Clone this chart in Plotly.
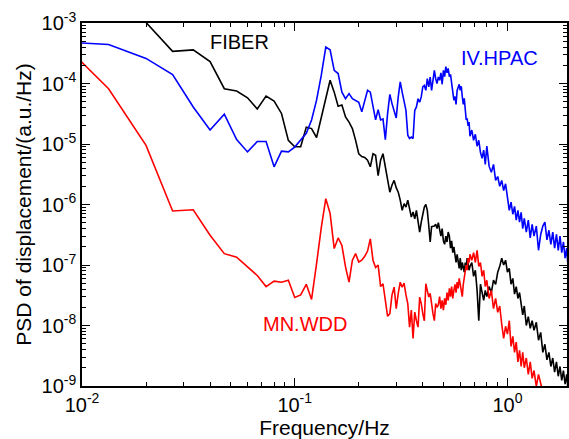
import math
import plotly.graph_objects as go

# frequency resolution of the spectra (Hz per bin)
DF = 1.0 / 150.0

# spectral bin indices (every bin up to 100, then a sparser set)
bins_low = list(range(1, 101))
bins_high = [102, 104, 106, 108, 110, 112, 114, 116, 118, 120,
             123, 126, 129, 132, 135, 138, 141, 144, 147, 150,
             153, 156, 159, 162, 165, 168, 171, 174, 177, 180,
             184, 188, 192, 196, 200,
             205, 210, 215, 220, 225, 230, 235, 240, 245, 250,
             255, 260, 265, 270, 275, 280, 285, 288]
bins = bins_low + bins_high
freq = [k * DF for k in bins]

fiber = [
    3.0e-3, 1.8e-3, 1.02e-3, 3.4e-4, 3.6e-4, 2.3e-4, 8.2e-5, 7.5e-5, 5.8e-5, 3.8e-5,
    6.2e-5, 5.1e-5, 3.2e-5, 1.15e-5, 9.0e-6, 9.0e-6, 1.9e-5, 1.8e-5, 1.28e-5, 2.8e-5,
    6.0e-5, 1.13e-4, 7.2e-5, 4.2e-5, 4.4e-5, 2.8e-5, 2.3e-5, 1.8e-5, 1.15e-5, 6.9e-6,
    6.2e-6, 6.0e-6, 5.4e-6, 4.2e-6, 6.9e-6, 6.5e-6, 3.0e-6, 5.4e-6, 6.9e-6, 4.2e-6,
    2.8e-6, 1.6e-6, 2.1e-6, 2.5e-6, 1.9e-6, 1.6e-6, 1.18e-6, 8.0e-7, 1.03e-6, 9.1e-7,
    1.18e-6, 8.0e-7, 6.2e-7, 7.5e-7, 5.8e-7, 8.0e-7, 5.5e-7, 3.5e-7, 5.1e-7, 7.5e-7,
    9.1e-7, 1.0e-6, 8.0e-7, 4.5e-7, 2.4e-7, 4.3e-7, 4.3e-7, 4.4e-7, 4.7e-7, 4.0e-7,
    5.0e-7, 3.7e-7, 3.0e-7, 4.0e-7, 2.5e-7, 2.2e-7, 3.0e-7, 2.4e-7, 3.5e-7, 3.0e-7,
    1.9e-7, 2.5e-7, 1.6e-7, 2.0e-7, 1.4e-7, 1.1e-7, 1.5e-7, 1.1e-7, 8.8e-8, 1.3e-7,
    8.2e-8, 1.1e-7, 9.5e-8, 7.6e-8, 1.1e-7, 8.8e-8, 1.3e-7, 1.03e-7, 8.2e-8, 9.5e-8,
    # sparse part
    1.1e-7, 6.5e-8, 8.2e-8, 3.8e-8, 1.2e-8, 4.8e-8, 3.5e-8, 2.6e-8, 3.8e-8, 3.0e-8,
    4.4e-8, 3.5e-8, 5.6e-8, 4.8e-8, 7.6e-8, 9.5e-8, 1.3e-7, 1.0e-7, 1.2e-7, 7.6e-8,
    8.8e-8, 4.8e-8, 6.0e-8, 3.3e-8, 4.4e-8, 2.8e-8, 3.5e-8, 2.1e-8, 1.5e-8, 2.1e-8,
    1.0e-8, 1.4e-8, 9.0e-9, 1.2e-8, 8.3e-9,
    1.13e-8, 5.7e-9, 7.7e-9, 3.6e-9, 4.9e-9, 2.7e-9, 3.6e-9, 2.1e-9, 2.9e-9, 1.7e-9,
    2.5e-9, 1.45e-9, 2.1e-9, 1.24e-9, 1.8e-9, 1.07e-9, 1.56e-9, 9.9e-10,
]

hpac = [
    5.1e-4, 4.4e-4, 2.6e-4, 1.4e-4, 4.1e-5, 1.7e-5, 3.1e-5, 1.18e-5, 7.4e-6, 1.1e-5,
    1.1e-5, 4.2e-6, 7.6e-6, 7.4e-6, 8.9e-6, 1.15e-5, 1.5e-5, 2.5e-5, 5.3e-5, 1.37e-4,
    4.0e-4, 3.6e-4, 1.65e-4, 1.46e-4, 7.2e-5, 5.6e-5, 6.8e-5, 5.6e-5, 5.3e-5, 4.9e-5,
    3.4e-5, 5.3e-5, 7.7e-5, 7.2e-5, 3.85e-5, 2.5e-5, 3.7e-5, 2.5e-5, 2.6e-5, 1.18e-5,
    3.2e-5, 6.6e-5, 4.65e-5, 3.4e-5, 2.7e-5, 6.0e-5, 1.06e-4, 7.2e-5, 4.65e-5, 3.6e-5,
    1.4e-5, 1.23e-5, 1.3e-5, 1.23e-5, 3.6e-5, 4.1e-5, 5.6e-5, 4.9e-5, 6.0e-5, 8.8e-5,
    9.3e-5, 7.7e-5, 1.2e-4, 8.8e-5, 1.28e-4, 7.7e-5, 1.13e-4, 1.65e-4, 1.2e-4, 1.0e-4,
    1.28e-4, 1.13e-4, 1.5e-4, 9.7e-5, 1.65e-4, 1.3e-4, 1.9e-4, 1.5e-4, 1.78e-4, 1.3e-4,
    1.42e-4, 1.05e-4, 7.7e-5, 5.3e-5, 6.1e-5, 4.5e-5, 7.7e-5, 9.0e-5, 9.7e-5, 7.7e-5,
    9.0e-5, 6.1e-5, 4.5e-5, 5.7e-5, 3.3e-5, 2.5e-5, 2.65e-5, 2.0e-5, 2.3e-5, 1.34e-5,
    # sparse part
    1.7e-5, 1.15e-5, 1.45e-5, 9.2e-6, 1.15e-5, 7.3e-6, 5.8e-6, 7.9e-6, 4.6e-6, 9.2e-6,
    4.3e-6, 3.4e-6, 4.6e-6, 2.5e-6, 2.9e-6, 2.0e-6, 2.5e-6, 1.7e-6, 2.2e-6, 1.27e-6,
    8.0e-7, 1.09e-6, 6.9e-7, 9.3e-7, 5.5e-7, 8.0e-7, 5.1e-7, 7.4e-7, 4.0e-7, 5.9e-7,
    3.5e-7, 5.5e-7, 2.8e-7, 4.7e-7, 3.0e-7,
    4.4e-7, 1.75e-7, 3.2e-7, 4.4e-7, 5.1e-7, 2.6e-7, 3.75e-7, 2.2e-7, 3.5e-7, 1.9e-7,
    3.2e-7, 1.75e-7, 3.0e-7, 1.6e-7, 2.4e-7, 1.3e-7, 1.9e-7, 1.1e-7,
]

wdd = [
    9.2e-4, 8.2e-5, 9.5e-6, 7.8e-7, 8.2e-7, 3.1e-7, 1.54e-7, 1.35e-7, 9.3e-8, 6.7e-8,
    4.4e-8, 5.4e-8, 5.2e-8, 5.6e-8, 2.9e-8, 3.2e-8, 4.8e-8, 2.7e-8, 1.05e-7, 4.2e-7,
    1.25e-6, 7.1e-7, 1.87e-7, 2.8e-7, 2.1e-7, 9.3e-8, 5.2e-8, 1.2e-7, 1.54e-7, 1.12e-7,
    1.2e-7, 1.39e-7, 1.7e-7, 2.7e-7, 1.2e-7, 9.1e-8, 1.0e-7, 4.4e-8, 4.9e-8, 2.6e-8,
    1.42e-8, 1.57e-8, 3.2e-8, 4.3e-8, 1.9e-8, 3.4e-8, 5.2e-8, 4.3e-8, 5.0e-8, 3.2e-8,
    2.3e-8, 9.4e-9, 1.8e-8, 6.1e-9, 1.67e-8, 1.2e-8, 9.4e-9, 2.95e-8, 2.3e-8, 1.57e-8,
    1.2e-8, 4.9e-8, 3.8e-8, 2.95e-8, 3.4e-8, 2.0e-8, 1.57e-8, 1.2e-8, 2.3e-8, 2.0e-8,
    2.2e-8, 3.0e-8, 1.9e-8, 2.6e-8, 1.8e-8, 2.8e-8, 2.2e-8, 3.5e-8, 2.6e-8, 4.1e-8,
    3.0e-8, 4.4e-8, 2.8e-8, 3.8e-8, 4.8e-8, 3.5e-8, 5.2e-8, 4.1e-8, 6.0e-8, 4.8e-8,
    3.5e-8, 3.0e-8, 4.8e-8, 6.0e-8, 7.6e-8, 1.0e-7, 8.2e-8, 1.3e-7, 1.1e-7, 1.5e-7,
    # sparse part
    1.2e-7, 1.6e-7, 1.1e-7, 1.75e-7, 9.5e-8, 1.1e-7, 6.5e-8, 8.2e-8, 4.4e-8, 5.6e-8,
    2.8e-8, 3.8e-8, 1.9e-8, 2.8e-8, 1.65e-8, 2.1e-8, 1.05e-8, 6.1e-9, 9.7e-9, 7.2e-9,
    1.2e-8, 4.5e-9, 6.6e-9, 3.6e-9, 5.3e-9, 2.5e-9, 3.9e-9, 2.1e-9, 3.6e-9, 2.0e-9,
    2.9e-9, 1.56e-9, 2.5e-9, 1.34e-9, 1.8e-9,
    9.8e-10, 1.56e-9, 1.07e-9, 7.9e-10, 6.3e-10, 4.8e-10,
]

series_names = ["FIBER", "IV.HPAC", "MN.WDD"]
series_colors = ["#000000", "#0000FF", "#FF0000"]
series_values = [fiber, hpac, wdd]

x_tick_vals = [0.01, 0.1, 1.0]
x_tick_text = ["10<sup>-2</sup>", "10<sup>-1</sup>", "10<sup>0</sup>"]
y_tick_vals = [1e-9, 1e-8, 1e-7, 1e-6, 1e-5, 1e-4, 1e-3]
y_tick_text = ["10<sup>-9</sup>", "10<sup>-8</sup>", "10<sup>-7</sup>", "10<sup>-6</sup>",
               "10<sup>-5</sup>", "10<sup>-4</sup>", "10<sup>-3</sup>"]

FONT = "Liberation Sans, Arial, Helvetica, sans-serif"

x_minor = [m * 10.0 ** e for e in (-2, -1, 0) for m in range(2, 10)]
y_minor = [m * 10.0 ** e for e in range(-9, -3) for m in range(2, 10)]

fig = go.Figure()
for name, color, vals in zip(series_names, series_colors, series_values):
    fig.add_trace(go.Scatter(
        x=freq[:len(vals)], y=vals, mode="lines", name=name,
        line=dict(color=color, width=1.6), showlegend=False,
    ))

# in-plot series labels
label_pos = {"FIBER": (0.0551, 4.85e-4), "IV.HPAC": (0.92, 2.63e-4), "MN.WDD": (0.1115, 1.05e-8)}
for name, color in zip(series_names, series_colors):
    lx, ly = label_pos[name]
    fig.add_annotation(x=math.log10(lx), y=math.log10(ly),
                       text=name, showarrow=False, xanchor="center", yanchor="middle",
                       font=dict(family=FONT, size=20, color=color))

axis_common = dict(
    type="log", showgrid=False, zeroline=False, showline=True, linecolor="black",
    linewidth=1.5, mirror="ticks", ticks="inside", ticklen=8, tickwidth=1.2,
    tickcolor="black", tickmode="array", automargin=False,
    tickfont=dict(family=FONT, size=20, color="black"),
)

fig.update_xaxes(
    **axis_common, range=[-2, 0.280], tickvals=x_tick_vals, ticktext=x_tick_text,
    minor=dict(tickmode="array", tickvals=x_minor, ticks="inside", ticklen=4,
               tickwidth=1, tickcolor="black", showgrid=False),
    title=dict(text="Frequency/Hz", font=dict(family=FONT, size=21, color="black")),
)
fig.update_yaxes(
    **axis_common, range=[-9, -3], tickvals=y_tick_vals, ticktext=y_tick_text,
    minor=dict(tickmode="array", tickvals=y_minor, ticks="inside", ticklen=4,
               tickwidth=1, tickcolor="black", showgrid=False),
    title=dict(text="PSD of displacement/(a.u./Hz)", standoff=4,
               font=dict(family=FONT, size=21, color="black")),
)

fig.update_layout(
    width=569, height=439,
    margin=dict(l=82, r=2, t=23, b=53, autoexpand=False),
    paper_bgcolor="white", plot_bgcolor="white",
    font=dict(family=FONT, size=20, color="black"),
)

fig.write_html(
    "out.html",
    config={"displayModeBar": False},
    post_script="document.body.style.margin='0px';document.body.style.overflow='hidden';",
)
